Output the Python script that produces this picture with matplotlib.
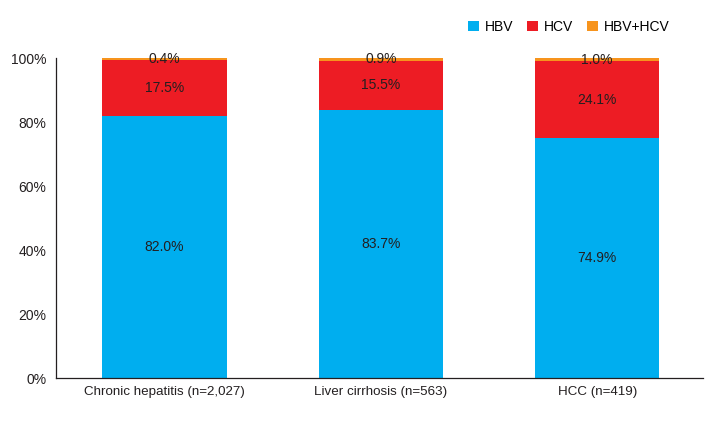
import matplotlib.pyplot as plt
import numpy as np

plt.rcParams['font.family'] = ['Liberation Sans', 'DejaVu Sans']

categories = ['Chronic hepatitis (n=2,027)', 'Liver cirrhosis (n=563)', 'HCC (n=419)']
hbv = [82.0, 83.7, 74.9]
hcv = [17.5, 15.5, 24.1]
both = [0.4, 0.9, 1.0]
series_names = ['HBV', 'HCV', 'HBV+HCV']
colors = ['#00AEEF', '#ED1C24', '#F7941D']

fig = plt.figure(figsize=(7.09, 4.21), dpi=100)
ax = fig.add_axes([0.079, 0.102, 0.913, 0.760])

x = np.arange(len(categories))
width = 0.575
bottom = np.zeros(len(categories))
handles = []
for vals, name, col in zip([hbv, hcv, both], series_names, colors):
    vals = np.array(vals)
    b = ax.bar(x, vals, width, bottom=bottom, color=col, label=name, clip_on=False)
    handles.append(b)
    for xi, v, bo in zip(x, vals, bottom):
        ax.text(xi, bo + v / 2, f'{v:.1f}%', ha='center', va='center',
                fontsize=10, color='#231F20')
    bottom += vals

ax.set_xlim(-0.5, 2.49)
ax.set_ylim(0, 100)
ax.set_yticks(np.arange(0, 101, 20))
ax.set_yticklabels([f'{t}%' for t in range(0, 101, 20)])
ax.set_xticks(x)
ax.set_xticklabels(categories)
ax.tick_params(axis='both', length=0, labelsize=9.6, colors='#231F20')
ax.tick_params(axis='y', labelsize=10, pad=7)
ax.tick_params(axis='x', pad=6)
for s in ['top', 'right']:
    ax.spines[s].set_visible(False)
for s in ['left', 'bottom']:
    ax.spines[s].set_color('#231F20')
    ax.spines[s].set_linewidth(0.9)

fig.legend(handles=handles, labels=series_names, loc='center right',
           bbox_to_anchor=(0.962, 0.936), ncol=3, frameon=False, fontsize=10,
           handlelength=0.8, handleheight=0.8, handletextpad=0.4, columnspacing=1.0)

fig.savefig('out.png', dpi=100)
